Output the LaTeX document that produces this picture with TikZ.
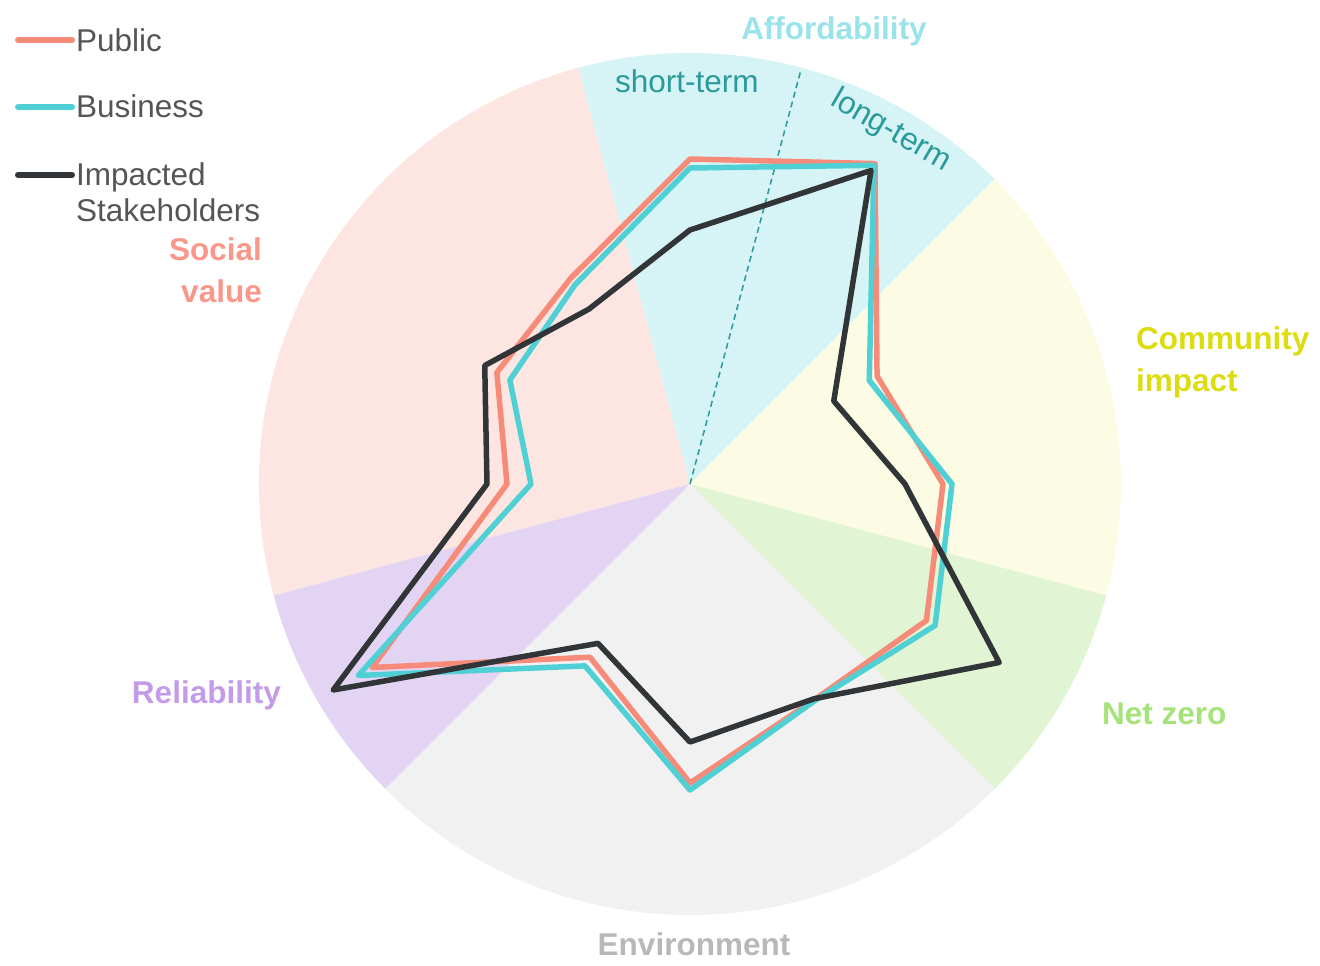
\documentclass[tikz,border=0pt]{standalone}
\usepackage{fontspec}
\setmainfont{Liberation Sans}
\usepackage{tikz}
\definecolor{pubc}{RGB}{246,139,122}
\definecolor{busc}{RGB}{79,208,213}
\definecolor{impc}{RGB}{50,53,55}
\definecolor{socialfill}{RGB}{253,230,226}
\definecolor{affordfill}{RGB}{214,243,245}
\definecolor{commfill}{RGB}{252,252,228}
\definecolor{netfill}{RGB}{225,244,212}
\definecolor{envfill}{RGB}{241,241,241}
\definecolor{relfill}{RGB}{228,212,244}
\definecolor{socialtext}{RGB}{249,152,138}
\definecolor{affordtext}{RGB}{155,227,234}
\definecolor{termtext}{RGB}{42,154,156}
\definecolor{commtext}{RGB}{220,220,16}
\definecolor{nettext}{RGB}{165,226,122}
\definecolor{envtext}{RGB}{184,184,184}
\definecolor{reltext}{RGB}{196,155,232}
\definecolor{legtext}{RGB}{85,85,85}

\begin{document}
\begin{tikzpicture}[x=1pt, y=1pt,
  every node/.style={inner sep=0pt, font=\fontsize{31.5}{36}\selectfont},
  axislabel/.style={font=\fontsize{31.5}{36}\selectfont\bfseries},
  series/.style={line width=5.5pt, line join=round},
  legline/.style={line width=6pt, line cap=round}]
\useasboundingbox (-690,-482) rectangle (630,484);
\coordinate (centre) at (0,0);
% sectors
\foreach \a/\b/\c in {105/195/socialfill, 45/105/affordfill, -15/45/commfill,
  -45/-15/netfill, -135/-45/envfill, -165/-135/relfill}
  \fill[\c] (centre) -- (\a:431pt) arc[start angle=\a, end angle=\b, radius=431pt] -- cycle;
\coordinate (split) at (75:426pt);
\draw[termtext, line width=1.5pt, dash pattern=on 6pt off 4pt] (centre) -- (split);
% data, one value per 30 degrees starting at the top
\foreach \r [count=\i] in {325,370,216,253,273,249,299,200,367,183,223,238}
  \coordinate (pub\i) at ({120-30*\i}:\r pt);
\foreach \r [count=\i] in {316,368,207,262,283,250,306,210,383,159,208,230}
  \coordinate (bus\i) at ({120-30*\i}:\r pt);
\foreach \r [count=\i] in {254,362,166,215,357,248,258,184,412,203,237,202}
  \coordinate (imp\i) at ({120-30*\i}:\r pt);
\draw[series, pubc] (pub1) \foreach \i in {2,...,12} {-- (pub\i)} -- cycle;
\draw[series, busc] (bus1) \foreach \i in {2,...,12} {-- (bus\i)} -- cycle;
\draw[series, impc] (imp1) \foreach \i in {2,...,12} {-- (imp\i)} -- cycle;
% axis labels
\node (afford) [axislabel, affordtext, anchor=base] at (144,444) {Affordability};
\node (short) [termtext, anchor=base west] at (-75,391) {short-term};
\node (long) [termtext, rotate=-30] at (201,353) {long-term};
\node (comm1) [axislabel, commtext, anchor=base west] at (446,134) {Community};
\node (comm2) [axislabel, commtext, anchor=base west] at (446,92) {impact};
\node (netzero) [axislabel, nettext, anchor=base west] at (412,-240) {Net zero};
\node (env) [axislabel, envtext, anchor=base] at (4,-471) {Environment};
\node (rel) [axislabel, reltext, anchor=base east] at (-409,-219) {Reliability};
\node (social1) [axislabel, socialtext, anchor=base east] at (-428,223) {Social};
\node (social2) [axislabel, socialtext, anchor=base east] at (-428,181) {value};
% legend
\coordinate (leg1a) at (-672,444); \coordinate (leg1b) at (-618,444);
\coordinate (leg2a) at (-672,377); \coordinate (leg2b) at (-618,377);
\coordinate (leg3a) at (-672,309); \coordinate (leg3b) at (-618,309);
\draw[legline, pubc] (leg1a) -- (leg1b);
\draw[legline, busc] (leg2a) -- (leg2b);
\draw[legline, impc] (leg3a) -- (leg3b);
\node (legpub) [legtext, anchor=base west] at (-614,432) {Public};
\node (legbus) [legtext, anchor=base west] at (-614,366) {Business};
\node (legimp1) [legtext, anchor=base west] at (-614,298) {Impacted};
\node (legimp2) [legtext, anchor=base west] at (-614,262) {Stakeholders};
\end{tikzpicture}
\end{document}
